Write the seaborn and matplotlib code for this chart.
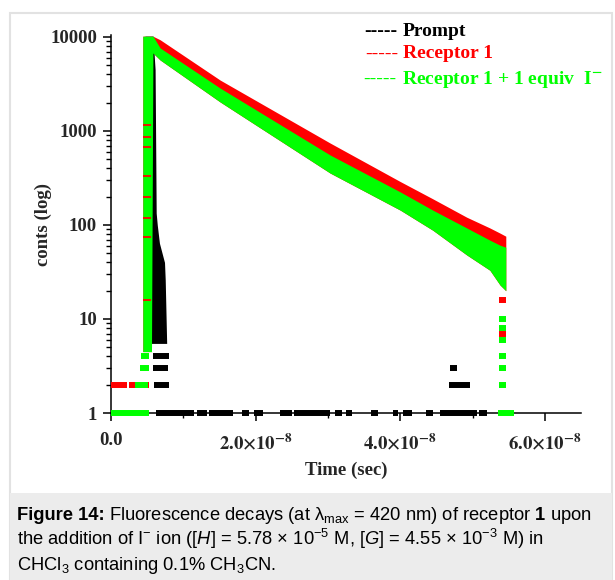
import numpy as np
import seaborn as sns
import matplotlib.pyplot as plt
from matplotlib.patches import Rectangle

# time axis in units of 1e-8 s, counts on log scale
t_band = [0.44, 0.56, 0.58, 0.68, 1.51, 3.03, 4.00, 4.45, 4.92, 5.24, 5.38, 5.46]
red_top = [10200, 10200, 10200, 9340, 3480, 745, 290, 190, 121, 93, 82, 76]
green_top = [10200, 10200, 10200, 7640, 2860, 556, 225, 144, 93, 69, 61, 58]
green_low = [4.5, 4.5, 6760, 5690, 2035, 357, 144, 88, 48, 33, 23, 20]

# prompt (instrument response): right edge of the spike for each count level
prompt_cnt = [5.5, 26, 40, 64, 100, 134, 4500, 10200]
prompt_right = [0.77, 0.75, 0.74, 0.67, 0.64, 0.625, 0.61, 0.58]
prompt_left = [0.47, 0.47, 0.47, 0.47, 0.47, 0.47, 0.47, 0.47]

# isolated low-count channels: (start, end, count)
red_runs = [(0.00, 0.22, 2), (0.25, 0.33, 2), (0.51, 0.53, 2), (5.37, 5.46, 16), (5.37, 5.46, 7)]
green_runs = [(0.00, 0.52, 1), (5.35, 5.57, 1), (0.33, 0.51, 2), (0.40, 0.53, 3), (0.41, 0.53, 4),
              (5.36, 5.46, 2), (5.36, 5.46, 3), (5.36, 5.46, 4), (5.36, 5.46, 6),
              (5.36, 5.46, 8), (5.36, 5.46, 10)]
black_runs = [(0.62, 1.15, 1), (1.19, 1.33, 1), (1.36, 1.69, 1), (1.81, 1.91, 1), (1.98, 2.10, 1),
              (2.34, 2.50, 1), (2.53, 3.03, 1), (3.10, 3.20, 1), (3.25, 3.33, 1), (3.59, 3.69, 1),
              (3.90, 3.97, 1), (4.04, 4.16, 1), (4.36, 4.46, 1), (4.55, 5.06, 1), (5.09, 5.20, 1),
              (0.60, 0.80, 2), (4.68, 4.96, 2), (0.58, 0.79, 3), (4.69, 4.79, 3), (0.58, 0.80, 4)]
# thin red streaks seen across the rising column
red_streaks = [1160, 863, 676, 331, 199, 119, 75, 16]

x_ticks = [0, 2, 4, 6]
x_ticklabels = ["0.0", r"$\mathbf{2.0{\times}10^{-8}}$", r"$\mathbf{4.0{\times}10^{-8}}$",
                r"$\mathbf{6.0{\times}10^{-8}}$"]
y_ticks = [1, 10, 100, 1000, 10000]

caption_head = "Figure 14:"
caption_lines = [
    r"Fluorescence decays (at λ$_{\mathrm{max}}$ = 420 nm) of receptor $\mathbf{1}$ upon",
    r"the addition of I$^{-}$ ion ([$\mathit{H}$] = 5.78 × 10$^{-5}$ M, [$\mathit{G}$] = 4.55 × 10$^{-3}$ M) in",
    r"CHCl$_3$ containing 0.1% CH$_3$CN.",
]

RED = "#ff0000"
GREEN = "#00ff00"

sns.set_style("ticks")
plt.rcParams["font.family"] = ["Liberation Serif", "DejaVu Serif"]
plt.rcParams["mathtext.fontset"] = "custom"
plt.rcParams["mathtext.rm"] = "Liberation Sans"
plt.rcParams["mathtext.it"] = "Liberation Sans:italic"
plt.rcParams["mathtext.bf"] = "Liberation Sans:bold"

S = 1e-8
W, H = 615, 580
fig = plt.figure(figsize=(W / 100, H / 100), dpi=100)

# outer frame and caption box
fig.patches.append(Rectangle((10 / W, 0), 602 / W, 567 / H, transform=fig.transFigure,
                             facecolor="white", edgecolor="#e2e2e2", lw=1.5, zorder=-2))
fig.patches.append(Rectangle((10 / W, 0), 602 / W, 87 / H, transform=fig.transFigure,
                             facecolor="#ececec", edgecolor="none", zorder=-1))

ax = fig.add_axes([111 / W, 1 - 413 / H, 470 / W, 378 / H])
ax.set_facecolor("none")

tb = np.array(t_band) * S
ax.fill_between(tb, green_low, red_top, color=RED, lw=0)
ax.fill_betweenx(prompt_cnt, np.array(prompt_left) * S, np.array(prompt_right) * S, color="black", lw=0)
ax.fill_between(tb, green_low, green_top, color=GREEN, lw=0)

for runs, col in [(red_runs, RED), (black_runs, "black"), (green_runs, GREEN)]:
    for t0, t1, c in runs:
        ax.hlines(c, t0 * S, t1 * S, color=col, lw=4.3, clip_on=False, zorder=3)
for c in red_streaks:
    ax.hlines(c, 0.44 * S, 0.56 * S, color=RED, lw=1.3, zorder=3)

ax.set_yscale("log")
ax.set_xlim(0, 6.5 * S)
ax.set_ylim(1, 10500)
ax.set_xticks([t * S for t in x_ticks])
ax.set_xticks([t * S for t in [1, 3, 5]], minor=True)
ax.set_xticklabels(x_ticklabels)
ax.set_yticks(y_ticks)
ax.set_yticklabels([str(v) for v in y_ticks])
for lab in ax.get_xticklabels() + ax.get_yticklabels():
    lab.set_fontweight("bold")
    lab.set_fontsize(13.5)
    lab.set_math_fontfamily("stix")
ax.tick_params(which="major", direction="out", length=6, width=1.1, color="black", pad=4)
ax.tick_params(which="minor", direction="out", length=3.5, width=1.0, color="black")
ax.tick_params(axis="x", which="major", pad=8)
for s in ["left", "bottom"]:
    ax.spines[s].set_linewidth(1.1)
    ax.spines[s].set_color("black")
sns.despine(ax=ax)

ax.set_ylabel("conts (log)", fontsize=13.5, fontweight="bold")
ax.yaxis.set_label_coords(-0.125, 0.5)
ax.set_xlabel("Time (sec)", fontsize=13.5, fontweight="bold", labelpad=6)

# legend drawn as text, like the original
fig.text(364 / W, 1 - 32 / H, "-----", fontsize=14, fontweight="bold", color="black", va="center")
fig.text(403 / W, 1 - 32 / H, "Prompt", fontsize=14, fontweight="bold", color="black", va="center")
fig.text(365 / W, 1 - 54 / H, "-----", fontsize=14, color=RED, va="center")
fig.text(403 / W, 1 - 54 / H, "Receptor 1", fontsize=14, fontweight="bold", color=RED, va="center")
fig.text(363 / W, 1 - 79 / H, "-----", fontsize=14, color=GREEN, va="center")
fig.text(402 / W, 1 - 79 / H, r"Receptor 1 + 1 equiv  I$^{\mathbf{-}}$", fontsize=14,
         fontweight="bold", color=GREEN, va="center", math_fontfamily="stix")

# caption
cap = dict(fontsize=13.2, family="Liberation Sans", color="black", va="baseline", math_fontfamily="custom")
head = fig.text(17 / W, 1 - 520 / H, caption_head, fontweight="bold", **cap)
bb = head.get_window_extent(fig.canvas.get_renderer())
fig.text(bb.x1 / W + 4 / W, 1 - 520 / H, caption_lines[0], **cap)
fig.text(17 / W, 1 - 545 / H, caption_lines[1], **cap)
fig.text(17 / W, 1 - 570 / H, caption_lines[2], **cap)

fig.savefig("out.png", dpi=100)
